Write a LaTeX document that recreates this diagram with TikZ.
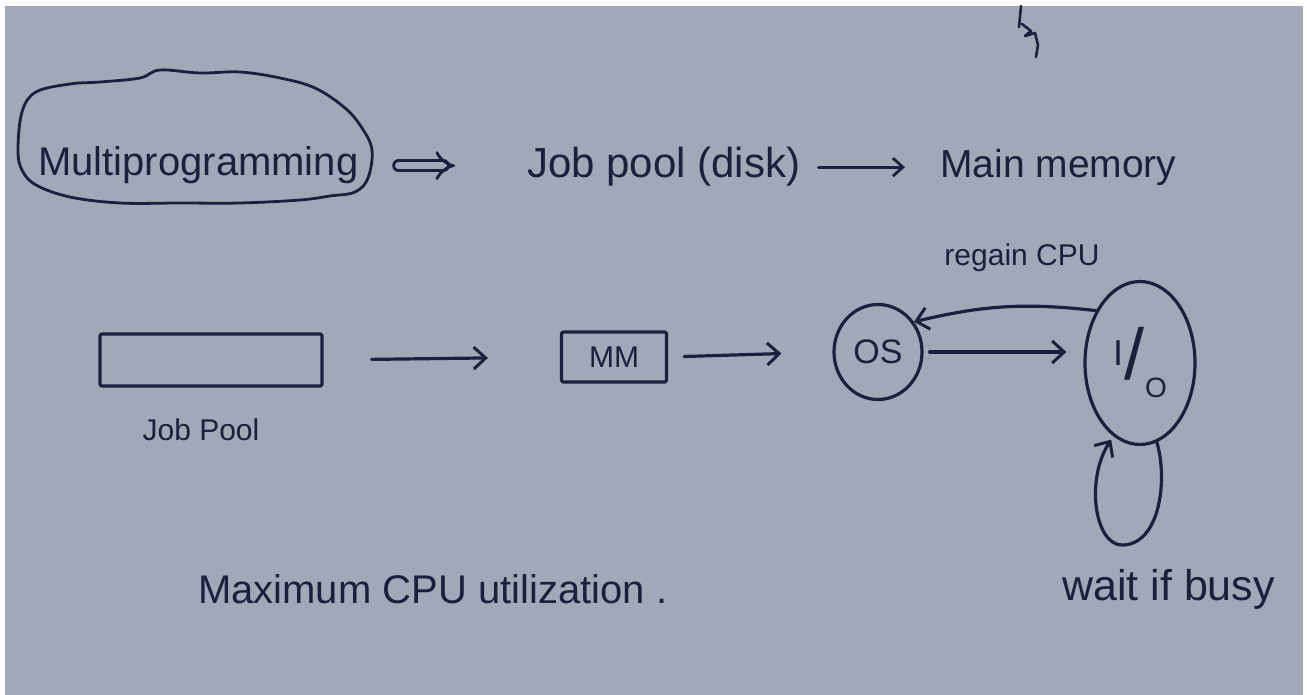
\documentclass[tikz,border=0pt]{standalone}
\usepackage{fontspec}
\setmainfont{Liberation Sans}
\usetikzlibrary{arrows.meta,shapes.geometric,calc}
\definecolor{paper}{RGB}{163,168,184}
\definecolor{ink}{RGB}{28,32,60}
\newcommand\fsz[1]{\fontsize{#1}{#1}\selectfont}

\begin{document}
\begin{tikzpicture}[x=1pt, y=-1pt,
  line cap=round, line join=round,
  pen/.style={draw=ink, line width=3.2pt},
  lbl/.style={inner sep=0pt, text=ink},
  arr/.style={pen, -{Straight Barb[length=12pt, width=22pt, line width=3pt]}},
  smallarr/.style={pen, line width=2.8pt, -{Straight Barb[length=10pt, width=18pt, line width=2.8pt]}},
  box/.style={pen, rounded corners=2pt, inner sep=0pt},
  bubble/.style={pen, ellipse, inner sep=0pt, text=ink}]

% sheet of paper with thin white margins
\useasboundingbox (0,0) rectangle (1307,695);
\fill[white] (0,0) rectangle (1307,695);
\fill[paper] (5,6) rectangle (1303,695);

% stray pen mark near the top edge
\draw[pen, line width=2.6pt] (1021,6) -- (1019,27);
\draw[pen, line width=2.6pt] (1022,24) -- (1031,31) -- (1025,36) -- (1035,33) -- (1038,45) -- (1036,57);

% first line: Multiprogramming => Job pool (disk) -> Main memory
\node[lbl, anchor=base west, font=\fsz{40}] (mp) at (38,176) {Multiprogramming};
\draw[pen, line width=2.8pt] plot[smooth cycle, tension=0.6] coordinates {
  (18,150) (22,112) (36,92) (70,84) (100,82) (140,78) (160,70) (200,73)
  (240,72) (280,78) (315,88) (345,108) (362,128) (372,150) (368,178)
  (355,192) (330,196) (300,200) (240,203) (180,203) (120,203) (70,197)
  (36,185) (22,170)};
\node[lbl, anchor=base west, font=\fsz{42}] (jpd) at (527,178) {Job pool (disk)};
\node[lbl, anchor=base west, font=\fsz{39}] (mem) at (940,178) {Main memory};

\draw[draw=ink, line width=2.8pt, double=paper, double distance=7pt, -{Implies},
  shorten <=40pt, shorten >=72pt] (mp.east) -- (mp.east -| jpd.west);
\draw[smallarr, shorten <=18pt, shorten >=35pt] (jpd.east) -- (jpd.east -| mem.west);

% second line: job pool -> main memory -> OS <-> I/O
\node[box, minimum width=222pt, minimum height=52pt] (jp) at (211,360) {};
\node[lbl, font=\fsz{30}] (jplab) at (201,430) {Job Pool};
\node[box, minimum width=105pt, minimum height=50pt, font=\fsz{30}, text=ink] (mm) at (614,357) {MM};
\node[bubble, minimum width=88pt, minimum height=95pt, font=\fsz{34}] (os) at (878,352) {OS};
\node[bubble, minimum width=110pt, minimum height=163pt] (io) at (1140,363)
  {\raisebox{14pt}{\fsz{36}I}\kern1pt{\fsz{72}/}\kern1pt\raisebox{-18pt}{\fsz{28}O}};

\draw[arr, shorten <=48pt, shorten >=72pt] (jp.east) -- (mm.west);
\draw[arr, shorten <=16pt, shorten >=51pt] (mm.east) -- (os.west);
\draw[arr, shorten <=6pt, shorten >=17pt] (os.east) -- (os.east -| io.west);
\draw[arr] (io.130) to[bend right=10] (os.40);
\node[lbl, font=\fsz{30}] (rg) at (1022,258) {regain CPU};

% I/O waits on itself while the device is busy
\draw[arr, shorten >=4pt] (io.-78) .. controls (1168,480) and (1160,545) .. (1122,545)
  .. controls (1095,545) and (1085,480) .. (io.-110);
\node[lbl, anchor=base west, font=\fsz{43}] (wait) at (1062,600) {wait if busy};

% closing remark
\node[lbl, anchor=base west, font=\fsz{40}] (cpu) at (198,603) {Maximum CPU utilization .};
\end{tikzpicture}
\end{document}
